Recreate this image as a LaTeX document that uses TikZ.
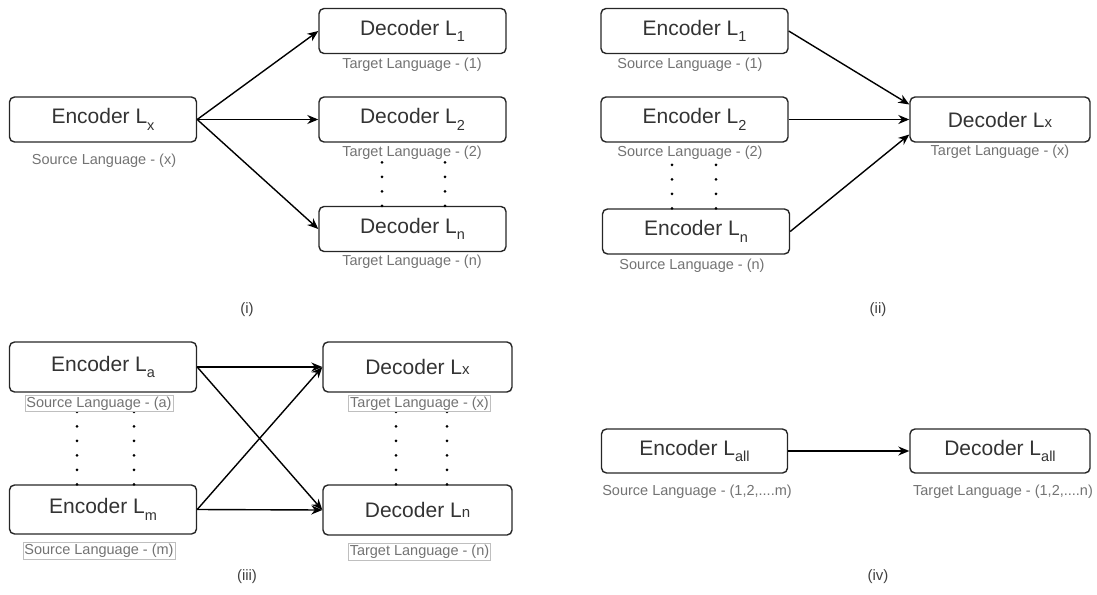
\documentclass[tikz,border=0pt]{standalone}
\usepackage{fontspec}
\setmainfont{Liberation Sans}
\usetikzlibrary{arrows.meta,calc}
\tikzset{>={Stealth[length=11pt,width=9pt]}}
\tikzset{
  box/.style={draw=black!85,line width=1.4pt,rounded corners=5pt,minimum width=187pt,minimum height=45pt,inner sep=0pt,text=black!80,font=\fontsize{21}{25}\selectfont},
  lbl/.style={text=black!55,font=\fontsize{14.5}{16}\selectfont,inner sep=1pt,fill=white},
  lblbox/.style={lbl,draw=black!25,line width=0.8pt,inner sep=1.5pt},
  dotline/.style={line width=3pt,line cap=round,dash pattern=on 0pt off 14.5pt},
  capt/.style={text=black!75,font=\fontsize{15}{18}\selectfont}
}
\newcommand{\lsub}[1]{\raisebox{-0.3em}{\fontsize{14.5}{14.5}\selectfont #1}}
\newcommand{\lsml}[1]{{\fontsize{15}{15}\selectfont #1}}

\begin{document}
\begin{tikzpicture}[x=1pt,y=-1pt]
  \useasboundingbox (0,0) rectangle (1097,594);
  % (i)
  \node[box] (encx) at (103,119.5) {Encoder L\lsub{x}};
  \node[box] (dec1) at (412.5,31) {Decoder L\lsub{1}};
  \node[box] (dec2) at (412.5,119.5) {Decoder L\lsub{2}};
  \node[box] (decn) at (412.5,229) {Decoder L\lsub{n}};
  \draw[dotline] (decn.north -| 382,0) -- (dec2.south -| 382,0);
  \draw[dotline] (decn.north -| 445,0) -- (dec2.south -| 445,0);
  \node[lbl] (encxL) at (104,161) {Source Language - (x)};
  \node[lbl] (dec1L) at (412,65) {Target Language - (1)};
  \node[lbl] (dec2L) at (412,153) {Target Language - (2)};
  \node[lbl] (decnL) at (412,262) {Target Language - (n)};
  \draw[->,line width=1.4pt] (encx.east) -- (dec1.west);
  \draw[->,line width=1.4pt] (encx.east) -- (dec2.west);
  \draw[->,line width=1.4pt] (encx.east) -- (decn.west);
  \node[capt] (ci) at (247,310) {(i)};
  % (ii)
  \node[box] (enc1) at (694.5,31) {Encoder L\lsub{1}};
  \node[box] (enc2) at (694.5,119.5) {Encoder L\lsub{2}};
  \node[box] (encn) at (696,231.5) {Encoder L\lsub{n}};
  \node[box,minimum width=180pt] (decx) at (1000,119.5) {Decoder L\lsml{x}};
  \draw[dotline] (encn.north -| 672,0) -- (enc2.south -| 672,0);
  \draw[dotline] (encn.north -| 716,0) -- (enc2.south -| 716,0);
  \node[lbl] (enc1L) at (690,65) {Source Language - (1)};
  \node[lbl] (enc2L) at (690,153) {Source Language - (2)};
  \node[lbl] (encnL) at (692,266) {Source Language - (n)};
  \node[lbl] (decxL) at (1000,152) {Target Language - (x)};
  \coordinate (inA) at ($(decx.west)+(0,-15)$);
  \coordinate (inB) at ($(decx.west)+(0,15)$);
  \draw[->,line width=1.4pt] (enc1.east) -- (inA);
  \draw[->,line width=1.4pt] (enc2.east) -- (decx.west);
  \draw[->,line width=1.4pt] (encn.east) -- (inB);
  \node[capt] (cii) at (878,310) {(ii)};
  % (iii)
  \node[box,minimum height=50pt] (enca) at (103,367) {Encoder L\lsub{a}};
  \node[box,minimum height=49pt] (encm) at (103,509.5) {Encoder L\lsub{m}};
  \node[box,minimum width=189pt,minimum height=50pt] (decX) at (417.5,367) {Decoder L\lsml{x}};
  \node[box,minimum width=189pt,minimum height=50pt] (decN) at (417.5,510) {Decoder L\lsml{n}};
  \draw[dotline] (encm.north -| 77,0) -- (enca.south -| 77,0);
  \draw[dotline] (encm.north -| 134,0) -- (enca.south -| 134,0);
  \draw[dotline] (decN.north -| 396,0) -- (decX.south -| 396,0);
  \draw[dotline] (decN.north -| 447,0) -- (decX.south -| 447,0);
  \node[lblbox] (encaL) at (99,403.5) {Source Language - (a)};
  \node[lblbox] (encmL) at (99,551) {Source Language - (m)};
  \node[lblbox] (decXL) at (419.5,403.5) {Target Language - (x)};
  \node[lblbox] (decNL) at (419.5,552) {Target Language - (n)};
  \draw[->,line width=1.4pt] (enca.east) -- (decX.west);
  \draw[->,line width=1.4pt] (enca.east) -- (decN.west);
  \draw[->,line width=1.4pt] (encm.east) -- (decX.west);
  \draw[->,line width=1.4pt] (encm.east) -- (decN.west);
  \node[capt] (ciii) at (247,577) {(iii)};
  % (iv)
  \node[box,minimum width=186pt,minimum height=44pt] (encall) at (694.5,451) {Encoder L\lsub{all}};
  \node[box,minimum width=180pt,minimum height=44pt] (decall) at (1000,451) {Decoder L\lsub{all}};
  \node[lbl] (encallL) at (697,492) {Source Language - (1,2,....m)};
  \node[lbl] (decallL) at (1003,492) {Target Language - (1,2,....n)};
  \draw[->,line width=1.4pt] (encall.east) -- (decall.west);
  \node[capt] (civ) at (878,577) {(iv)};
\end{tikzpicture}
\end{document}
